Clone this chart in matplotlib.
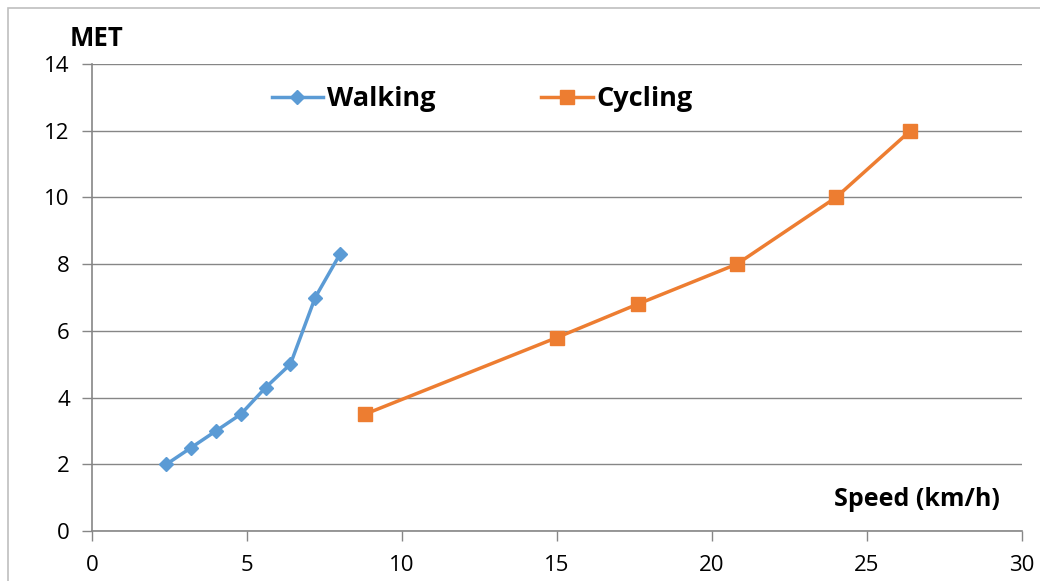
import matplotlib.pyplot as plt
from matplotlib.patches import Rectangle

# data
walk_speed = [2.4, 3.2, 4.0, 4.8, 5.6, 6.4, 7.2, 8.0]
walk_met = [2.0, 2.5, 3.0, 3.5, 4.3, 5.0, 7.0, 8.3]
cycle_speed = [8.8, 15.0, 17.6, 20.8, 24.0, 26.4]
cycle_met = [3.5, 5.8, 6.8, 8.0, 10.0, 12.0]
x_ticks = [0, 5, 10, 15, 20, 25, 30]
y_ticks = [0, 2, 4, 6, 8, 10, 12, 14]

plt.rcParams['font.family'] = ['Open Sans', 'DejaVu Sans']
grey = '#868686'

fig = plt.figure(figsize=(10.4, 5.81), dpi=100)
# chart frame (right and bottom edges fall outside the picture)
fig.patches.append(Rectangle((8 / 1040, -0.1), 1.2, 1 - 8 / 581 + 0.1,
                             transform=fig.transFigure, fill=False,
                             edgecolor='#bfbfbf', linewidth=1.2))

ax = fig.add_axes([92 / 1040, 50 / 581, 930 / 1040, 467 / 581])
ax.plot(walk_speed, walk_met, color='#5B9BD5', linewidth=2.5, marker='D',
        markersize=7, label='Walking')
ax.plot(cycle_speed, cycle_met, color='#ED7D31', linewidth=2.5, marker='s',
        markersize=10, label='Cycling')

ax.set_xlim(0, 30)
ax.set_ylim(0, 14)
ax.set_xticks(x_ticks)
ax.set_yticks(y_ticks)
ax.grid(axis='y', color=grey, linewidth=1)
ax.set_axisbelow(True)
for side in ['top', 'right']:
    ax.spines[side].set_visible(False)
for side in ['left', 'bottom']:
    ax.spines[side].set_color(grey)
    ax.spines[side].set_linewidth(1.2)
ax.tick_params(colors=grey, labelcolor='black', labelsize=16, length=7,
               width=1)
ax.tick_params(axis='x', pad=10)
ax.tick_params(axis='y', pad=9)

fig.text(70 / 1040, 1 - 38 / 581, 'MET', fontsize=18.5, fontweight='bold',
         va='center', ha='left')
fig.text(1000 / 1040, 1 - 500 / 581, 'Speed (km/h)', fontsize=18,
         fontweight='bold', va='center', ha='right')

leg = ax.legend(loc='center left', bbox_to_anchor=(0.167, 0.925), ncol=2,
                frameon=False, handlelength=1.9, handletextpad=0.15,
                columnspacing=3.9, prop={'size': 19.5, 'weight': 'bold'})

fig.savefig('out.png', dpi=100)
